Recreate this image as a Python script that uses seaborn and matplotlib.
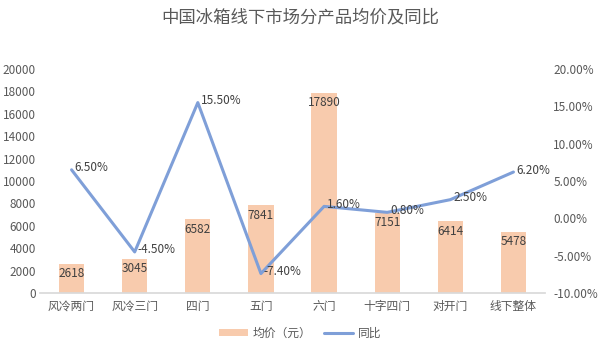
import matplotlib
matplotlib.use("Agg")
import matplotlib.pyplot as plt
import seaborn as sns
import numpy as np
import pandas as pd
from matplotlib.patches import Patch
from matplotlib.lines import Line2D

categories = ["风冷两门", "风冷三门", "四门", "五门", "六门", "十字四门", "对开门", "线下整体"]
avg_price = [2618, 3045, 6582, 7841, 17890, 7151, 6414, 5478]
yoy = [6.5, -4.5, 15.5, -7.4, 1.6, 0.8, 2.5, 6.2]
left_ticks = list(range(0, 20001, 2000))
right_ticks = [-10, -5, 0, 5, 10, 15, 20]

sns.set_theme(style="white")
plt.rcParams["font.family"] = ["Noto Sans CJK SC", "DejaVu Sans"]

bar_color = "#F8CBAD"
line_color = "#7F9FD8"
text_color = "#595959"

df = pd.DataFrame({"cat": categories, "price": avg_price, "yoy": yoy, "pos": np.arange(len(categories))})

fig = plt.figure(figsize=(6, 3.53), dpi=100)
ax = fig.add_axes([40/600, 1-293/353, 505/600, 224/353])
sns.barplot(data=df, x="cat", y="price", color=bar_color, width=0.4, ax=ax, saturation=1,
            edgecolor="none")
ax.set_ylim(0, 20000)
ax.set_yticks(left_ticks)
ax.set_xlim(-0.5, len(categories)-0.5)
ax.set_xlabel("")
ax.set_ylabel("")
for s in ["top", "right", "left"]:
    ax.spines[s].set_visible(False)
ax.spines["bottom"].set_color("#D9D9D9")
ax.tick_params(axis="y", labelsize=8.5, colors=text_color, length=0, pad=3)
ax.tick_params(axis="x", labelsize=8.5, colors=text_color, length=0, pad=5)

for i, v in enumerate(avg_price):
    ax.annotate(str(v), (i, v), xytext=(0, -10), textcoords="offset pixels",
                ha="center", va="center", fontsize=8.5, color="#404040")

ax2 = ax.twinx()
sns.lineplot(data=df, x="pos", y="yoy", color=line_color, linewidth=2.2, ax=ax2, legend=False)
ax2.set_ylim(-10, 20)
ax2.set_yticks(right_ticks)
ax2.set_yticklabels([f"{t:.2f}%" for t in right_ticks])
ax2.set_xlim(-0.5, len(categories)-0.5)
ax2.set_xlabel("")
ax2.set_ylabel("")
for s in ["top", "right", "left", "bottom"]:
    ax2.spines[s].set_visible(False)
ax2.tick_params(axis="y", labelsize=8.5, colors=text_color, length=0, pad=6)

for i, v in enumerate(yoy):
    ax2.annotate(f"{v:.2f}%", (i, v), xytext=(3, 2), textcoords="offset pixels",
                 ha="left", va="center", fontsize=8.5, color="#404040")

fig.text(0.5, 1-17/353, "中国冰箱线下市场分产品均价及同比", ha="center", va="center",
         fontsize=12.5, color="#595959")

handles = [Patch(facecolor=bar_color, edgecolor="none"), Line2D([0], [0], color=line_color, lw=2.2)]
fig.legend(handles, ["均价（元）", "同比"], loc="center", bbox_to_anchor=(0.5, 1-333/353),
           ncol=2, frameon=False, fontsize=8.5, labelcolor=text_color,
           handlelength=2.5, handleheight=0.6, columnspacing=1.0, handletextpad=0.4)

fig.savefig("out.png", dpi=100)
